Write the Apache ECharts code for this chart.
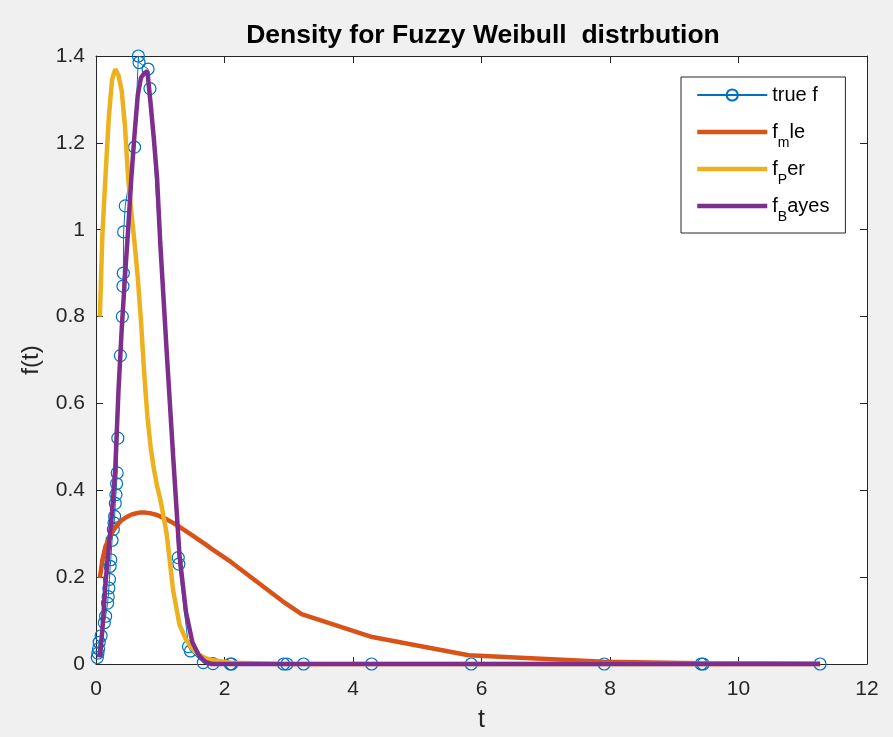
<!DOCTYPE html>
<html>
<head>
<meta charset="utf-8">
<script src="https://cdn.jsdelivr.net/npm/echarts@6/dist/echarts.min.js"></script>
<style>html,body{margin:0;padding:0;background:#f0f0f0;}#c{width:893px;height:737px;}</style>
</head>
<body>
<div id="c"></div>
<script>
// ---- data ----
const seriesNames = ['true f', 'f_mle', 'f_Per', 'f_Bayes'];
const xTicks = [0, 2, 4, 6, 8, 10, 12];
const yTicks = [0, 0.2, 0.4, 0.6, 0.8, 1, 1.2, 1.4];

// sample points of the true density (circles)
const tTrue = [0.02, 0.03, 0.04, 0.05, 0.08, 0.13, 0.15, 0.18, 0.19, 0.2, 0.21, 0.22, 0.23, 0.25, 0.27, 0.28, 0.29, 0.3, 0.31, 0.32, 0.33, 0.34, 0.38, 0.41, 0.42, 0.425, 0.43, 0.455, 0.6, 0.66, 0.67, 0.81, 0.84, 1.28, 1.29, 1.44, 1.47, 1.67, 1.82, 2.09, 2.11, 2.92, 2.97, 3.23, 4.29, 5.84, 7.91, 9.42, 9.45, 11.27];
const fTrue = [0.015, 0.025, 0.035, 0.05, 0.065, 0.095, 0.11, 0.14, 0.155, 0.175, 0.195, 0.225, 0.24, 0.285, 0.31, 0.325, 0.34, 0.37, 0.39, 0.415, 0.44, 0.52, 0.71, 0.80, 0.87, 0.90, 0.995, 1.055, 1.19, 1.40, 1.385, 1.37, 1.325, 0.245, 0.23, 0.04, 0.03, 0.003, 0.001, 0, 0, 0, 0, 0, 0, 0, 0, 0, 0, 0];

// evaluation points of the estimated densities
const tGrid = [0.06, 0.1, 0.15, 0.2, 0.25, 0.3, 0.35, 0.4, 0.45, 0.5, 0.55, 0.6, 0.65, 0.7, 0.75, 0.8, 0.85, 0.9, 0.95, 1.0, 1.1, 1.2, 1.3, 1.4, 1.5, 1.6, 1.7, 1.8, 2.1, 2.9, 3.2, 4.3, 5.8, 7.9, 9.4, 11.27];
const fMle = [0.198, 0.24, 0.272, 0.287, 0.302, 0.314, 0.324, 0.331, 0.336, 0.340, 0.344, 0.346, 0.348, 0.349, 0.349, 0.348, 0.347, 0.345, 0.343, 0.340, 0.333, 0.325, 0.316, 0.306, 0.296, 0.286, 0.276, 0.265, 0.235, 0.145, 0.115, 0.062, 0.02, 0.005, 0.002, 0.0005];
const fPer = [0.80, 0.99, 1.13, 1.26, 1.345, 1.37, 1.355, 1.32, 1.24, 1.12, 1.04, 0.97, 0.89, 0.79, 0.67, 0.57, 0.50, 0.45, 0.41, 0.38, 0.30, 0.17, 0.09, 0.057, 0.035, 0.022, 0.014, 0.009, 0.003, 0, 0, 0, 0, 0, 0, 0];
const fBayes = [0.015, 0.08, 0.19, 0.27, 0.35, 0.45, 0.63, 0.77, 0.89, 1.0, 1.12, 1.22, 1.31, 1.35, 1.36, 1.365, 1.29, 1.21, 1.12, 0.97, 0.72, 0.48, 0.25, 0.12, 0.05, 0.02, 0.005, 0, 0, 0, 0, 0, 0, 0, 0, 0];

const colors = ['#0072BD', '#D95319', '#EDB120', '#7E2F8E'];
const pair = (xs, ys) => xs.map((x, i) => [x, ys[i]]);

const FONT = 'Liberation Sans, Arial, Helvetica, sans-serif';
const AX = '#262626';

const chart = echarts.init(document.getElementById('c'), null, {renderer: 'canvas'});

const legendRich = {
  n: {fontSize: 20, fontFamily: FONT, color: '#000', lineHeight: 36, verticalAlign: 'middle'},
  s: {fontSize: 14, fontFamily: FONT, color: '#000', lineHeight: 36, verticalAlign: 'bottom'}
};
function legendFmt(name) {
  if (name === 'f_mle') return '{n|f}{s|m}{n|le}';
  if (name === 'f_Per') return '{n|f}{s|P}{n|er}';
  if (name === 'f_Bayes') return '{n|f}{s|B}{n|ayes}';
  return '{n|' + name + '}{s| }';
}

const baseAxisCommon = {
  axisLine: {show: true, onZero: false, lineStyle: {color: AX, width: 1}},
  axisTick: {show: true, inside: true, length: 7, lineStyle: {color: AX, width: 1}},
  splitLine: {show: false}
};

const option = {
  backgroundColor: '#f0f0f0',
  animation: false,
  title: {
    text: 'Density for Fuzzy Weibull  distrbution',
    left: 478, textAlign: 'center', top: 17,
    textStyle: {fontFamily: FONT, fontWeight: 'bold', fontSize: 26.5, color: '#000'}
  },
  grid: {left: 96, right: 26, top: 56, bottom: 73, show: true, backgroundColor: '#ffffff', borderWidth: 0,
    containLabel: false, outerBoundsMode: 'none'},
  legend: {
    orient: 'vertical', left: 681, top: 77,
    data: [
      {name: seriesNames[0]},
      {name: seriesNames[1], itemStyle: {opacity: 0}, lineStyle: {width: 4.5}},
      {name: seriesNames[2], itemStyle: {opacity: 0}, lineStyle: {width: 4.5}},
      {name: seriesNames[3], itemStyle: {opacity: 0}, lineStyle: {width: 4.5}}
    ],
    itemWidth: 70, itemHeight: 14, itemGap: 9,
    padding: [8, 16, 9, 14],
    backgroundColor: '#ffffff', borderColor: '#262626', borderWidth: 1,
    formatter: legendFmt,
    textStyle: {rich: legendRich, fontFamily: FONT, fontSize: 20, color: '#000'}
  },
  xAxis: [
    Object.assign({}, baseAxisCommon, {
      type: 'value', position: 'bottom', min: 0, max: 12, interval: 2,
      name: 't', nameLocation: 'middle', nameGap: 44,
      nameTextStyle: {fontFamily: FONT, fontSize: 25, color: AX},
      axisLabel: {show: true, margin: 15, fontFamily: FONT, fontSize: 21, color: AX,
        formatter: v => xTicks.indexOf(v) >= 0 ? String(v) : ''}
    }),
    Object.assign({}, baseAxisCommon, {
      type: 'value', position: 'top', min: 0, max: 12, interval: 2,
      axisLabel: {show: false}
    })
  ],
  yAxis: [
    Object.assign({}, baseAxisCommon, {
      type: 'value', position: 'left', min: 0, max: 1.4, interval: 0.2,
      name: 'f(t)', nameLocation: 'middle', nameGap: 53, nameRotate: 90,
      nameTextStyle: {fontFamily: FONT, fontSize: 24, color: AX},
      axisLabel: {show: true, margin: 11, fontFamily: FONT, fontSize: 21, color: AX,
        formatter: v => { const r = Math.round(v * 10) / 10; return yTicks.indexOf(r) >= 0 ? String(r) : ''; }}
    }),
    Object.assign({}, baseAxisCommon, {
      type: 'value', position: 'right', min: 0, max: 1.4, interval: 0.2,
      axisLabel: {show: false}
    })
  ],
  series: [
    {
      name: seriesNames[0], type: 'line', xAxisIndex: 0, yAxisIndex: 0,
      data: pair(tTrue, fTrue), clip: false,
      symbol: 'circle', symbolSize: 12, showAllSymbol: true,
      lineStyle: {color: colors[0], width: 1},
      itemStyle: {color: 'rgba(255,255,255,0)', borderColor: colors[0], borderWidth: 1.2},
      emphasis: {disabled: true}, z: 2
    },
    {
      name: seriesNames[1], type: 'line', data: pair(tGrid, fMle), clip: false,
      symbol: 'none', lineStyle: {color: colors[1], width: 4.5}, itemStyle: {color: colors[1]},
      emphasis: {disabled: true}, z: 3
    },
    {
      name: seriesNames[2], type: 'line', data: pair(tGrid, fPer), clip: false,
      symbol: 'none', lineStyle: {color: colors[2], width: 4.5}, itemStyle: {color: colors[2]},
      emphasis: {disabled: true}, z: 4
    },
    {
      name: seriesNames[3], type: 'line', data: pair(tGrid, fBayes), clip: false,
      symbol: 'none', lineStyle: {color: colors[3], width: 4.5}, itemStyle: {color: colors[3]},
      emphasis: {disabled: true}, z: 5
    }
  ]
};
chart.setOption(option);
</script>
</body>
</html>
